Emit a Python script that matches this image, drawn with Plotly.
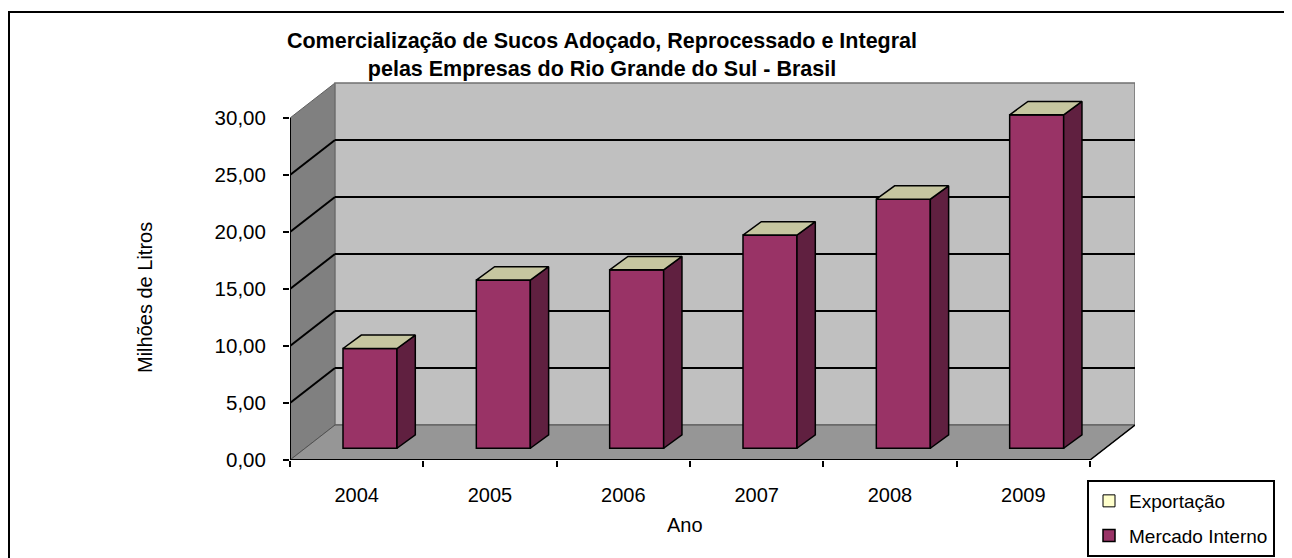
import plotly.graph_objects as go

# ---------------- data ----------------
YEARS = ["2004", "2005", "2006", "2007", "2008", "2009"]
MERCADO_INTERNO = [8.75, 14.75, 15.65, 18.70, 21.85, 29.25]
EXPORTACAO = [0.0, 0.0, 0.0, 0.0, 0.0, 0.0]
Y_TICKS = [0, 5, 10, 15, 20, 25, 30]

TITLE = ("<b>Comercialização de Sucos Adoçado, Reprocessado e Integral</b><br>"
         "<b>pelas Empresas do Rio Grande do Sul - Brasil</b>")

# ---------------- geometry (pseudo 3-D) ----------------
OFF = 8                      # page body margin
W, H = 1292 - OFF, 558 - OFF
PLOT_L, PLOT_R, PLOT_T, PLOT_B = 290, 1135, 81, 460   # page pixels
ML, MR, MT, MB = PLOT_L - OFF, W - (PLOT_R - OFF), PLOT_T - OFF, H - (PLOT_B - OFF)
PW, PH = PLOT_R - PLOT_L, PLOT_B - PLOT_T
N = len(YEARS)
X0, XF = -0.5, N - 0.5
PX_PER_X = 800 / N
PX_PER_Y = 57 / 5
DX = 45 / PX_PER_X          # depth offset of back wall (x units)
DY = 35 / PX_PER_Y          # depth offset of back wall (y units)
XMAX = XF + DX
YMAX = PH / PX_PER_Y
YTOP = Y_TICKS[-1]

BOFF = 0.10                 # bar front-face centre offset
BW = 0.405                  # bar width
B0 = 1.03                   # bar base (depth position on floor)
SDX = 18.3 / PX_PER_X       # bar side depth
SDY = 13.4 / PX_PER_Y

FRONT = "#993366"
SIDE = "#602040"
TOP = "#C6C6A0"
EXP_COLOR = "#FFFFCC"
FONT = "Liberation Sans, Arial, sans-serif"


def px_paper(px, py):
    """page pixel -> paper coordinates"""
    return (px - PLOT_L) / PW, (PLOT_B - py) / PH


fig = go.Figure()

xpos = [i + BOFF for i in range(N)]

# front faces
fig.add_trace(go.Bar(
    x=xpos, y=MERCADO_INTERNO, base=[B0] * N, width=BW,
    name="Mercado Interno", legendgroup="mi", legendrank=2,
    marker=dict(color=FRONT, line=dict(color="black", width=1.5)),
    customdata=YEARS, hovertemplate="%{customdata}: %{y:.2f}<extra>Mercado Interno</extra>",
))
# Exportação stacked on top
fig.add_trace(go.Bar(
    x=xpos, y=EXPORTACAO, base=[B0 + v for v in MERCADO_INTERNO], width=BW,
    name="Exportação", legendgroup="ex", legendrank=1,
    marker=dict(color=EXP_COLOR, line=dict(color="black", width=1)),
    customdata=YEARS, hovertemplate="%{customdata}: %{y:.2f}<extra>Exportação</extra>",
))

# side faces and top faces computed from data
sx, sy, tx, ty = [], [], [], []
for i, (v, e) in enumerate(zip(MERCADO_INTERNO, EXPORTACAO)):
    xl = xpos[i] - BW / 2
    xr = xpos[i] + BW / 2
    top = B0 + v + e
    sx += [xr, xr + SDX, xr + SDX, xr, xr, None]
    sy += [B0, B0 + SDY, top + SDY, top, B0, None]
    tx += [xl, xl + SDX, xr + SDX, xr, xl, None]
    ty += [top, top + SDY, top + SDY, top, top, None]

fig.add_trace(go.Scatter(x=sx, y=sy, mode="lines", fill="toself", fillcolor=SIDE,
                         line=dict(color="black", width=1.5), showlegend=False, hoverinfo="skip"))
fig.add_trace(go.Scatter(x=tx, y=ty, mode="lines", fill="toself", fillcolor=TOP,
                         line=dict(color="black", width=1.5), showlegend=False, hoverinfo="skip"))

# helper trace for the category-boundary tick axis
fig.add_trace(go.Scatter(x=[X0, XF], y=[None, None], xaxis="x2", mode="markers",
                         showlegend=False, hoverinfo="skip"))

shapes = []
# left side wall
shapes.append(dict(type="path", xref="x", yref="y", layer="below",
                   path=f"M{X0},0 L{X0 + DX},{DY} L{X0 + DX},{YTOP + DY} L{X0},{YTOP} Z",
                   fillcolor="#808080", line=dict(color="#606060", width=1)))
# back wall
shapes.append(dict(type="rect", xref="x", yref="y", layer="below",
                   x0=X0 + DX, x1=XF + DX, y0=DY, y1=YTOP + DY,
                   fillcolor="#C0C0C0", line=dict(color="#707070", width=1.5)))
# floor
shapes.append(dict(type="path", xref="x", yref="y", layer="below",
                   path=f"M{X0},0 L{XF},0 L{XF + DX},{DY} L{X0 + DX},{DY} Z",
                   fillcolor="#969696", line=dict(color="#505050", width=1)))
# gridlines
for v in Y_TICKS[1:-1]:
    shapes.append(dict(type="line", xref="x", yref="y", layer="below",
                       x0=X0, y0=v, x1=X0 + DX, y1=v + DY, line=dict(color="black", width=2)))
    shapes.append(dict(type="line", xref="x", yref="y", layer="below",
                       x0=X0 + DX, y0=v + DY, x1=XF + DX, y1=v + DY, line=dict(color="black", width=2)))
# front axis lines
shapes.append(dict(type="line", xref="x", yref="y", layer="below",
                   x0=X0, y0=0, x1=X0, y1=YTOP, line=dict(color="black", width=2)))
shapes.append(dict(type="line", xref="x", yref="y", layer="below",
                   x0=X0, y0=0, x1=XF, y1=0, line=dict(color="black", width=2)))
shapes.append(dict(type="line", xref="x", yref="y", layer="below",
                   x0=XF, y0=0, x1=XF + DX, y1=DY, line=dict(color="black", width=1.5)))
# outer chart border (right and bottom edges fall outside the window)
bx0, by0 = px_paper(9, 12)
bx1, by1 = px_paper(1310, 575)
shapes.append(dict(type="rect", xref="paper", yref="paper", x0=bx0, y0=by1, x1=bx1, y1=by0,
                   line=dict(color="black", width=2), fillcolor="rgba(0,0,0,0)"))

annotations = []
ax, ay = px_paper(685, 525)
annotations.append(dict(text="Ano", xref="paper", yref="paper", x=ax, y=ay,
                        xanchor="center", yanchor="middle", showarrow=False,
                        font=dict(family=FONT, size=20, color="black")))
tx_, ty_ = px_paper(145, 298)
annotations.append(dict(text="Milhões de Litros", xref="paper", yref="paper", x=tx_, y=ty_,
                        xanchor="center", yanchor="middle", showarrow=False, textangle=-90,
                        font=dict(family=FONT, size=20, color="black")))

lx, ly = px_paper(1087, 480)

fig.update_layout(
    width=W, height=H,
    margin=dict(l=ML, r=MR, t=MT, b=MB, autoexpand=False),
    paper_bgcolor="white", plot_bgcolor="white",
    separators=",.",
    barmode="overlay",
    font=dict(family=FONT, size=20, color="black"),
    title=dict(text=TITLE, x=px_paper(602, 0)[0], xref="paper", xanchor="center",
               y=1 - 40 / H, yref="container", yanchor="top",
               font=dict(family=FONT, size=21.5, color="black")),
    xaxis=dict(range=[X0, XMAX], tickvals=list(range(N)), ticktext=YEARS,
               ticks="", ticklabelstandoff=21, showgrid=False, zeroline=False, showline=False,
               tickfont=dict(size=20), fixedrange=True),
    xaxis2=dict(range=[X0, XMAX], overlaying="x", anchor="y", side="bottom",
                tickvals=[X0 + k for k in range(N + 1)], ticks="outside", ticklen=6,
                tickwidth=1.5, tickcolor="black",
                showticklabels=False, showgrid=False, zeroline=False, showline=False),
    yaxis=dict(range=[0, YMAX], tickvals=Y_TICKS, tickformat=".2f",
               ticks="outside", ticklen=6, tickwidth=1.5, tickcolor="black",
               ticklabelstandoff=13,
               showgrid=False, zeroline=False, showline=False,
               tickfont=dict(size=20.5), fixedrange=True),
    legend=dict(x=lx, y=ly, xanchor="left", yanchor="top",
                bgcolor="white", bordercolor="black", borderwidth=2,
                font=dict(size=19), tracegroupgap=7),
    shapes=shapes,
    annotations=annotations,
)

fig.write_html("out.html")
